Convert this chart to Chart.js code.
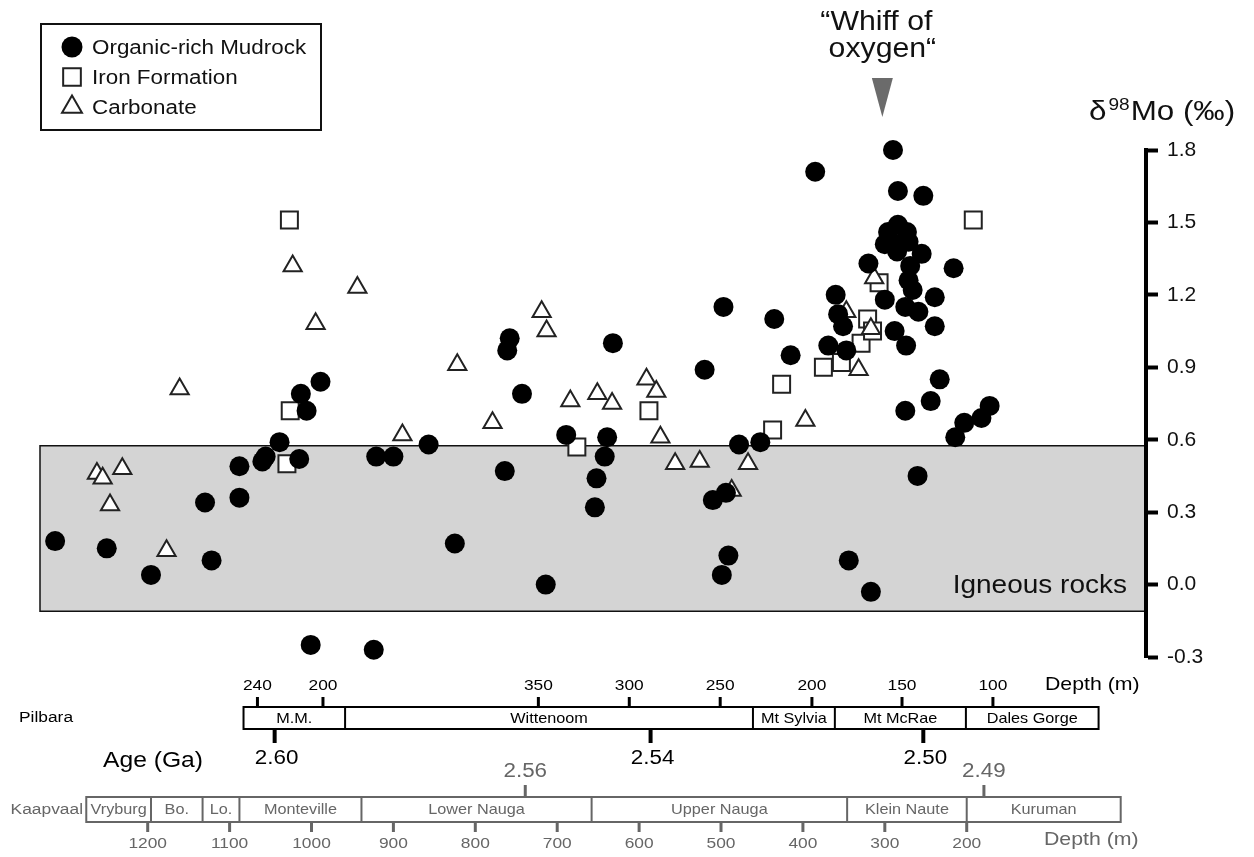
<!DOCTYPE html>
<html>
<head>
<meta charset="utf-8">
<script src="https://cdn.jsdelivr.net/npm/chart.js@4.4.1/dist/chart.umd.min.js"></script>
<style>
  html, body { margin: 0; padding: 0; background: #fff; }
  canvas { display: block; }
</style>
</head>
<body>
<canvas id="moChart" width="1254" height="857"></canvas>
<script>
/* ============================================================
   δ98Mo vs. stratigraphy — Pilbara / Kaapvaal composite.
   x = position on the composite depth axis (Kaapvaal core, m),
   y = δ98Mo (‰). Everything below the plot is drawn by a plugin
   that maps through the chart's own x scale.
   ============================================================ */

// Organic-rich mudrock
const mudX = [1313, 1250, 1196, 1122, 1130, 1088, 1088, 1060, 1056, 1039, 1015, 1013, 1006, 989, 1001, 924,
  921, 900, 857, 825, 764, 758, 761, 743, 714, 689, 639, 642, 652, 654, 632, 497, 435, 415, 520, 478, 452,
  510, 494, 491, 499, 344, 317, 385, 290, 284, 253, 216, 284, 296, 273, 300, 283, 271, 285, 255, 269, 271,
  266, 320, 300, 360, 357, 351, 275, 259, 239, 239, 288, 274, 369, 347, 233, 244, 275, 172, 182, 203, 214, 260];
const mudMo = [0.18, 0.15, 0.04, 0.10, 0.34, 0.36, 0.49, 0.51, 0.53, 0.59, 0.52, 0.79, 0.72, 0.84, -0.25, -0.27,
  0.53, 0.53, 0.58, 0.17, 0.47, 1.02, 0.97, 0.79, 0.00, 0.62, 0.61, 0.53, 0.44, 0.32, 1.00, 1.15, 1.10, 0.95, 0.89, 0.58, 0.59,
  0.35, 0.38, 0.12, 0.04, 0.10, -0.03, 1.71, 1.80, 1.63, 1.61, 1.31, 1.49, 1.46, 1.46, 1.41, 1.41, 1.42, 1.38, 1.37, 1.32, 1.26,
  1.22, 1.33, 1.18, 1.20, 1.12, 1.07, 1.15, 1.13, 1.19, 1.07, 1.05, 0.99, 0.99, 0.97, 0.85, 0.76, 0.72, 0.74, 0.69, 0.67, 0.61, 0.45];

// Iron formation
const ironX = [1027, 1026, 1030, 676, 588, 426, 437, 375, 353, 329, 321, 315, 307, 192];
const ironMo = [1.51, 0.72, 0.50, 0.57, 0.72, 0.83, 0.64, 0.90, 0.92, 1.00, 1.10, 1.05, 1.25, 1.51];

// Carbonate
const carbX = [1262, 1255, 1231, 1246, 1177, 1161, 1023, 995, 944, 889, 822, 779, 719, 713, 684, 651, 633,
  591, 579, 574, 556, 526, 467, 487, 397, 313, 347, 317, 332];
const carbMo = [0.46, 0.44, 0.48, 0.33, 0.14, 0.81, 1.32, 1.08, 1.23, 0.62, 0.91, 0.67, 1.13, 1.05, 0.76, 0.79, 0.75,
  0.85, 0.80, 0.61, 0.50, 0.51, 0.50, 0.39, 0.68, 1.27, 1.13, 1.06, 0.89];

// Igneous rocks range (‰) and the "whiff" marker position
const igneousRange = [-0.11, 0.575];
const whiffX = 303;

// Pilbara section (positions in composite x units)
const pilbaraUnits = ['M.M.', 'Wittenoom', 'Mt Sylvia', 'Mt McRae', 'Dales Gorge'];
const pilbaraBounds = [1083, 959, 461, 361, 201, 39];
const pilbaraDepthLabels = ['240', '200', '350', '300', '250', '200', '150', '100'];
const pilbaraDepthX = [1066, 986, 723, 612, 501, 389, 279, 168];
const pilbaraAgeLabels = ['2.60', '2.54', '2.50'];
const pilbaraAgeX = [1045, 586, 253];

// Kaapvaal section
const kaapUnits = ['Vryburg', 'Bo.', 'Lo.', 'Monteville', 'Lower Nauga', 'Upper Nauga', 'Klein Naute', 'Kuruman'];
const kaapBounds = [1275, 1196, 1133, 1088, 939, 658, 346, 200, 12];
const kaapDepthTicks = [1200, 1100, 1000, 900, 800, 700, 600, 500, 400, 300, 200];
const kaapAgeLabels = ['2.56', '2.49'];
const kaapAgeX = [739, 179];

const FONT = '"Liberation Sans", Arial, Helvetica, sans-serif';
const SX = 1.12;          // reference lettering is slightly wide
const GREY = '#666';

function text(ctx, s, x, y, size, color, align, base) {
  ctx.save();
  ctx.font = size + 'px ' + FONT;
  ctx.fillStyle = color || '#000';
  ctx.textAlign = align || 'center';
  ctx.textBaseline = base || 'middle';
  ctx.translate(x, y);
  ctx.scale(SX, 1);
  ctx.fillText(s, 0, 0);
  ctx.restore();
}

function textWidth(ctx, s, size) {
  ctx.save();
  ctx.font = size + 'px ' + FONT;
  const w = ctx.measureText(s).width * SX;
  ctx.restore();
  return w;
}

function vline(ctx, x, y1, y2, w, color) {
  ctx.save();
  ctx.strokeStyle = color;
  ctx.lineWidth = w;
  ctx.beginPath();
  ctx.moveTo(x, y1);
  ctx.lineTo(x, y2);
  ctx.stroke();
  ctx.restore();
}

function marker(ctx, style, radius, fill, stroke, bw, x, y) {
  ctx.save();
  ctx.fillStyle = fill;
  ctx.strokeStyle = stroke;
  ctx.lineWidth = bw;
  Chart.helpers.drawPoint(ctx, { pointStyle: style, radius: radius, rotation: 0, borderWidth: bw }, x, y);
  ctx.restore();
}

/** Grey igneous band behind everything. */
const bandPlugin = {
  id: 'igneousBand',
  beforeDraw(chart) {
    const { ctx, chartArea: a, scales: { y } } = chart;
    const yTop = y.getPixelForValue(igneousRange[1]);
    const yBot = y.getPixelForValue(igneousRange[0]);
    ctx.save();
    ctx.fillStyle = '#d4d4d4';
    ctx.fillRect(a.left, yTop, a.right - a.left, yBot - yTop);
    ctx.strokeStyle = '#111';
    ctx.lineWidth = 1.5;
    ctx.beginPath();
    ctx.moveTo(a.right, yTop);
    ctx.lineTo(a.left, yTop);
    ctx.lineTo(a.left, yBot);
    ctx.lineTo(a.right, yBot);
    ctx.stroke();
    ctx.restore();
    text(ctx, 'Igneous rocks', a.right - 19, yBot - 18, 25, '#111', 'right', 'alphabetic');
  },
};

/** Legend, title, whiff marker and the two stratigraphic columns. */
const annotationPlugin = {
  id: 'annotations',
  afterDraw(chart) {
    const { ctx, scales: { x } } = chart;
    const px = (v) => x.getPixelForValue(v);

    // legend box
    ctx.save();
    ctx.strokeStyle = '#111';
    ctx.lineWidth = 2;
    ctx.strokeRect(41, 24, 280, 106);
    ctx.restore();
    const ds = chart.data.datasets;
    const legendRows = [ds[0], ds[2], ds[1]];
    legendRows.forEach((d, i) => {
      const yy = 47 + i * 30;
      marker(ctx, d.pointStyle, d.pointStyle === 'triangle' ? 11.5 : d.pointRadius + 0.5,
        d.backgroundColor, d.borderColor, d.borderWidth, 72, yy);
      text(ctx, d.label, 92, yy + 1, 20, '#111', 'left', 'middle');
    });

    // "Whiff of oxygen"
    const wx = px(whiffX);
    text(ctx, '\u201CWhiff of', wx - 6, 30, 27, '#111', 'center', 'alphabetic');
    text(ctx, 'oxygen\u201C', wx, 57, 27, '#111', 'center', 'alphabetic');
    ctx.save();
    ctx.fillStyle = '#6b6b6b';
    ctx.beginPath();
    ctx.moveTo(wx - 10.5, 78);
    ctx.lineTo(wx + 10.5, 78);
    ctx.lineTo(wx, 117);
    ctx.closePath();
    ctx.fill();
    ctx.restore();

    // axis title δ98Mo (‰)
    let tx = 1089;
    text(ctx, 'δ', tx, 120, 28, '#111', 'left', 'alphabetic');
    tx += textWidth(ctx, 'δ', 28) + 2;
    text(ctx, '98', tx, 110, 17, '#111', 'left', 'alphabetic');
    tx += textWidth(ctx, '98', 17) + 1;
    text(ctx, 'Mo', tx, 120, 28, '#111', 'left', 'alphabetic');
    tx += textWidth(ctx, 'Mo ', 28);
    text(ctx, '(‰)', tx, 120, 28, '#111', 'left', 'alphabetic');

    // ---- Pilbara column ----
    const pTop = 707, pBot = 729;
    ctx.save();
    ctx.strokeStyle = '#000';
    ctx.lineWidth = 2;
    const pl = px(pilbaraBounds[0]), pr = px(pilbaraBounds[pilbaraBounds.length - 1]);
    ctx.strokeRect(pl, pTop, pr - pl, pBot - pTop);
    ctx.restore();
    pilbaraUnits.forEach((u, i) => {
      const a = px(pilbaraBounds[i]), b = px(pilbaraBounds[i + 1]);
      if (i > 0) vline(ctx, a, pTop, pBot, 2, '#000');
      text(ctx, u, (a + b) / 2, 719, 14.5, '#000');
    });
    pilbaraDepthX.forEach((v, i) => {
      vline(ctx, px(v), 697, pTop, 3, '#000');
      text(ctx, pilbaraDepthLabels[i], px(v), 686, 15.5, '#000');
    });
    text(ctx, 'Depth (m)', 1045, 685, 19, '#000', 'left');
    text(ctx, 'Pilbara', 19, 718, 15.5, '#000', 'left');
    pilbaraAgeX.forEach((v, i) => {
      vline(ctx, px(v), pBot, 743, 4, '#000');
      text(ctx, pilbaraAgeLabels[i], px(v) + 2, 758, 20, '#000');
    });
    text(ctx, 'Age (Ga)', 103, 761, 22, '#000', 'left');

    // ---- Kaapvaal column ----
    const kTop = 797, kBot = 822;
    ctx.save();
    ctx.strokeStyle = GREY;
    ctx.lineWidth = 2;
    const kl = px(kaapBounds[0]), kr = px(kaapBounds[kaapBounds.length - 1]);
    ctx.strokeRect(kl, kTop, kr - kl, kBot - kTop);
    ctx.restore();
    kaapUnits.forEach((u, i) => {
      const a = px(kaapBounds[i]), b = px(kaapBounds[i + 1]);
      if (i > 0) vline(ctx, a, kTop, kBot, 2, GREY);
      text(ctx, u, (a + b) / 2, 810, 14.5, GREY);
    });
    text(ctx, 'Kaapvaal', 83, 810, 15.5, GREY, 'right');
    kaapDepthTicks.forEach((v) => {
      vline(ctx, px(v), kBot, 832, 3, GREY);
      text(ctx, String(v), px(v), 844, 15.5, GREY);
    });
    text(ctx, 'Depth (m)', 1044, 840, 19, GREY, 'left');
    kaapAgeX.forEach((v, i) => {
      vline(ctx, px(v), 785, kTop, 3, GREY);
      text(ctx, kaapAgeLabels[i], px(v), 771, 20, GREY);
    });
  },
};

const toPoints = (xs, ys) => xs.map((v, i) => ({ x: v, y: ys[i] }));

new Chart(document.getElementById('moChart'), {
  type: 'scatter',
  data: {
    datasets: [
      { label: 'Organic-rich Mudrock', data: toPoints(mudX, mudMo), pointStyle: 'circle', pointRadius: 10,
        backgroundColor: '#000', borderColor: '#000', borderWidth: 0, clip: false },
      { label: 'Carbonate', data: toPoints(carbX, carbMo), pointStyle: 'triangle', pointRadius: 10.5,
        backgroundColor: '#fff', borderColor: '#222', borderWidth: 2, clip: false },
      { label: 'Iron Formation', data: toPoints(ironX, ironMo), pointStyle: 'rect', pointRadius: 12,
        backgroundColor: '#fff', borderColor: '#222', borderWidth: 2, clip: false },
    ],
  },
  options: {
    responsive: false,
    animation: false,
    devicePixelRatio: 1,
    events: [],
    layout: { padding: { left: 40, top: 150, right: 0, bottom: 200 } },
    plugins: { legend: { display: false }, tooltip: { enabled: false } },
    scales: {
      x: { type: 'linear', min: -18.9, max: 1331.5, reverse: true, display: false },
      y: {
        type: 'linear',
        position: 'right',
        min: -0.3,
        max: 1.8,
        ticks: {
          stepSize: 0.3,
          padding: 9,
          color: '#111',
          font: { family: FONT, size: 21 },
          callback: (v) => Number(v).toFixed(1),
        },
        grid: { drawOnChartArea: false, drawTicks: true, tickLength: 12, tickWidth: 4, tickColor: '#000' },
        border: { display: true, color: '#000', width: 4 },
        afterFit(scale) { scale.width = 108; },
      },
    },
  },
  plugins: [bandPlugin, annotationPlugin],
});
</script>
</body>
</html>
